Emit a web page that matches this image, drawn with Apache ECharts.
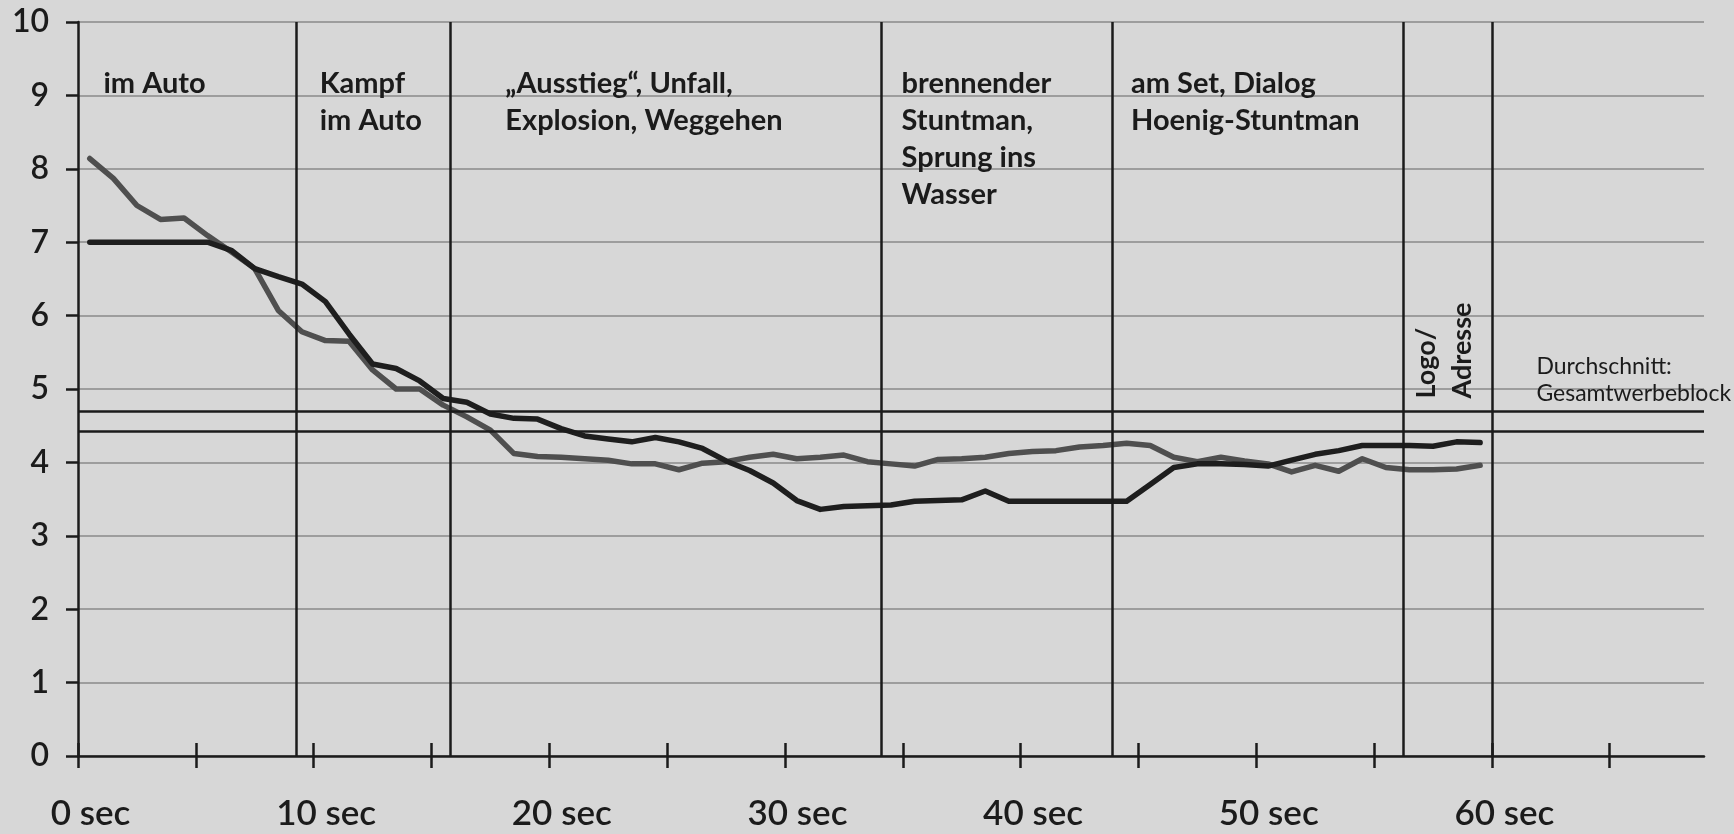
<!DOCTYPE html>
<html>
<head>
<meta charset="utf-8">
<script src="https://cdn.jsdelivr.net/npm/echarts@6/dist/echarts.min.js"></script>
<style>
  html, body { margin: 0; padding: 0; background: #d6d6d6; }
  #chart { width: 1734px; height: 834px; }
</style>
</head>
<body>
<div id="chart"></div>
<script>
// Messzeitpunkte (Mitte jeder Sekunde)
const sekunden = [
  0.5, 1.5, 2.5, 3.5, 4.5, 5.5, 6.5, 7.5, 8.5, 9.5,
  10.5, 11.5, 12.5, 13.5, 14.5, 15.5, 16.5, 17.5, 18.5, 19.5,
  20.5, 21.5, 22.5, 23.5, 24.5, 25.5, 26.5, 27.5, 28.5, 29.5,
  30.5, 31.5, 32.5, 33.5, 34.5, 35.5, 36.5, 37.5, 38.5, 39.5,
  40.5, 41.5, 42.5, 43.5, 44.5, 45.5, 46.5, 47.5, 48.5, 49.5,
  50.5, 51.5, 52.5, 53.5, 54.5, 55.5, 56.5, 57.5, 58.5, 59.5
];

// dunkle Kurve
const kurveDunkel = [
  7.00, 7.00, 7.00, 7.00, 7.00, 7.00, 6.89, 6.64, 6.53, 6.43,
  6.19, 5.75, 5.34, 5.28, 5.11, 4.87, 4.82, 4.66, 4.60, 4.59,
  4.46, 4.36, 4.32, 4.28, 4.34, 4.28, 4.19, 4.02, 3.89, 3.72,
  3.48, 3.36, 3.40, 3.41, 3.42, 3.47, 3.48, 3.49, 3.61, 3.47,
  3.47, 3.47, 3.47, 3.47, 3.47, 3.70, 3.93, 3.98, 3.98, 3.97,
  3.95, 4.03, 4.11, 4.16, 4.23, 4.23, 4.23, 4.22, 4.28, 4.27
];

// graue Kurve
const kurveGrau = [
  8.14, 7.87, 7.50, 7.31, 7.33, 7.09, 6.87, 6.64, 6.07, 5.78,
  5.66, 5.65, 5.26, 5.00, 5.00, 4.78, 4.62, 4.44, 4.12, 4.08,
  4.07, 4.05, 4.03, 3.98, 3.98, 3.90, 3.99, 4.01, 4.07, 4.11,
  4.05, 4.07, 4.10, 4.01, 3.98, 3.95, 4.04, 4.05, 4.07, 4.12,
  4.15, 4.16, 4.21, 4.23, 4.26, 4.23, 4.07, 4.01, 4.07, 4.02,
  3.98, 3.87, 3.96, 3.88, 4.05, 3.93, 3.90, 3.90, 3.91, 3.96
];

// Durchschnitt Gesamtwerbeblock (zwei Linien)
const durchschnitt = [4.70, 4.42];

// Szenengrenzen in Sekunden
const szenenGrenzen = [9.25, 15.8, 34.1, 43.9, 56.25, 60];

// Szenenbeschriftungen und ihr Beginn
const szenenBeginn = [0, 9.25, 15.8, 34.1, 43.9];
const szenenTexte = [
  'im Auto',
  'Kampf\nim Auto',
  '\u201EAusstieg\u201C, Unfall,\nExplosion, Weggehen',
  'brennender\nStuntman,\nSprung ins\nWasser',
  'am Set, Dialog\nHoenig-Stuntman'
];
const logoBeginn = 56.25;
const logoText = 'Logo/\nAdresse';
const durchschnittText = 'Durchschnitt:\nGesamtwerbeblock';

// Achsen
const xTicks = [0, 5, 10, 15, 20, 25, 30, 35, 40, 45, 50, 55, 60, 65];
const xLabelWerte = [0, 10, 20, 30, 40, 50, 60];
const xLabelTexte = ['0 sec', '10 sec', '20 sec', '30 sec', '40 sec', '50 sec', '60 sec'];

// ---- Darstellung ----
const INK = '#1b1b1b';
const FONT = 'Lato';
const axisStroke = { color: INK, width: 2.5 };
const szenenVersatz = [25.5, 23.7, 55, 20, 18.5]; // Abstand Text zur Linie (px)

const chart = echarts.init(document.getElementById('chart'), null, { renderer: 'canvas' });

chart.setOption({
  backgroundColor: '#d7d7d7',
  animation: false,
  grid: { left: 78, top: 22, right: 30, bottom: 78 },
  xAxis: [
    {
      type: 'value', min: 0, max: 69, position: 'bottom',
      axisLine: { show: true, lineStyle: axisStroke },
      axisTick: { show: true, length: 12, customValues: xTicks, lineStyle: axisStroke },
      axisLabel: {
        customValues: xLabelWerte,
        formatter: v => xLabelTexte[xLabelWerte.indexOf(v)],
        fontFamily: FONT, fontWeight: 600, fontSize: 35, color: INK,
        margin: 40, padding: [0, 0, 0, 25]
      },
      splitLine: { show: false }
    },
    {
      type: 'value', min: 0, max: 69, position: 'bottom',
      axisLine: { show: false },
      axisTick: { show: true, inside: true, length: 13, customValues: xTicks, lineStyle: axisStroke },
      axisLabel: { show: false },
      splitLine: { show: false }
    }
  ],
  yAxis: {
    type: 'value', min: 0, max: 10, interval: 1,
    axisLine: { show: true, lineStyle: axisStroke },
    axisTick: { show: true, length: 12, lineStyle: axisStroke },
    axisLabel: { fontFamily: FONT, fontWeight: 600, fontSize: 32, color: INK, margin: 29, padding: [6, 0, 0, 0] },
    splitLine: { show: true, lineStyle: { color: '#8a8a8a', width: 1.5 } }
  },
  series: [
    {
      type: 'line', data: [], silent: true,
      markLine: {
        silent: true, symbol: 'none', animation: false,
        label: { show: false },
        lineStyle: { color: INK, width: 2.5, type: 'solid' },
        data: durchschnitt.map(v => ({ yAxis: v }))
          .concat(szenenGrenzen.map(t => ({ xAxis: t })))
      }
    },
    {
      type: 'line', name: 'grau', showSymbol: false, silent: true, z: 3,
      data: sekunden.map((t, i) => [t, kurveGrau[i]]),
      lineStyle: { color: '#4f4f4f', width: 5.5, join: 'round', cap: 'round' }
    },
    {
      type: 'line', name: 'dunkel', showSymbol: false, silent: true, z: 4,
      data: sekunden.map((t, i) => [t, kurveDunkel[i]]),
      lineStyle: { color: '#1e1e1e', width: 5.5, join: 'round', cap: 'round' }
    }
  ]
});

// Beschriftungen an Pixelpositionen der Achsen ausrichten
const px = (t, v) => chart.convertToPixel({ gridIndex: 0 }, [t, v]);
const top10 = px(0, 10)[1];
const graphics = [];

szenenBeginn.forEach((t, i) => {
  const p = px(t, 10);
  graphics.push({
    type: 'text', silent: true,
    x: p[0] + szenenVersatz[i], y: top10 + 43,
    style: {
      text: szenenTexte[i], fill: INK, font: `bold 29px ${FONT}`,
      lineHeight: 37, align: 'left', verticalAlign: 'top'
    }
  });
});

const pl = px(logoBeginn, 4.87);
graphics.push({
  type: 'text', silent: true,
  x: pl[0] + 4.5, y: pl[1], rotation: Math.PI / 2,
  style: {
    text: logoText, fill: INK, font: `bold 27px ${FONT}`,
    lineHeight: 36, align: 'left', verticalAlign: 'top'
  }
});

const pd = px(60, 4.7);
graphics.push({
  type: 'text', silent: true,
  x: pd[0] + 44.5, y: pd[1] - 58,
  style: {
    text: durchschnittText, fill: INK, font: `23px ${FONT}`,
    lineHeight: 27, align: 'left', verticalAlign: 'top'
  }
});

chart.setOption({ graphic: graphics });
</script>
</body>
</html>
